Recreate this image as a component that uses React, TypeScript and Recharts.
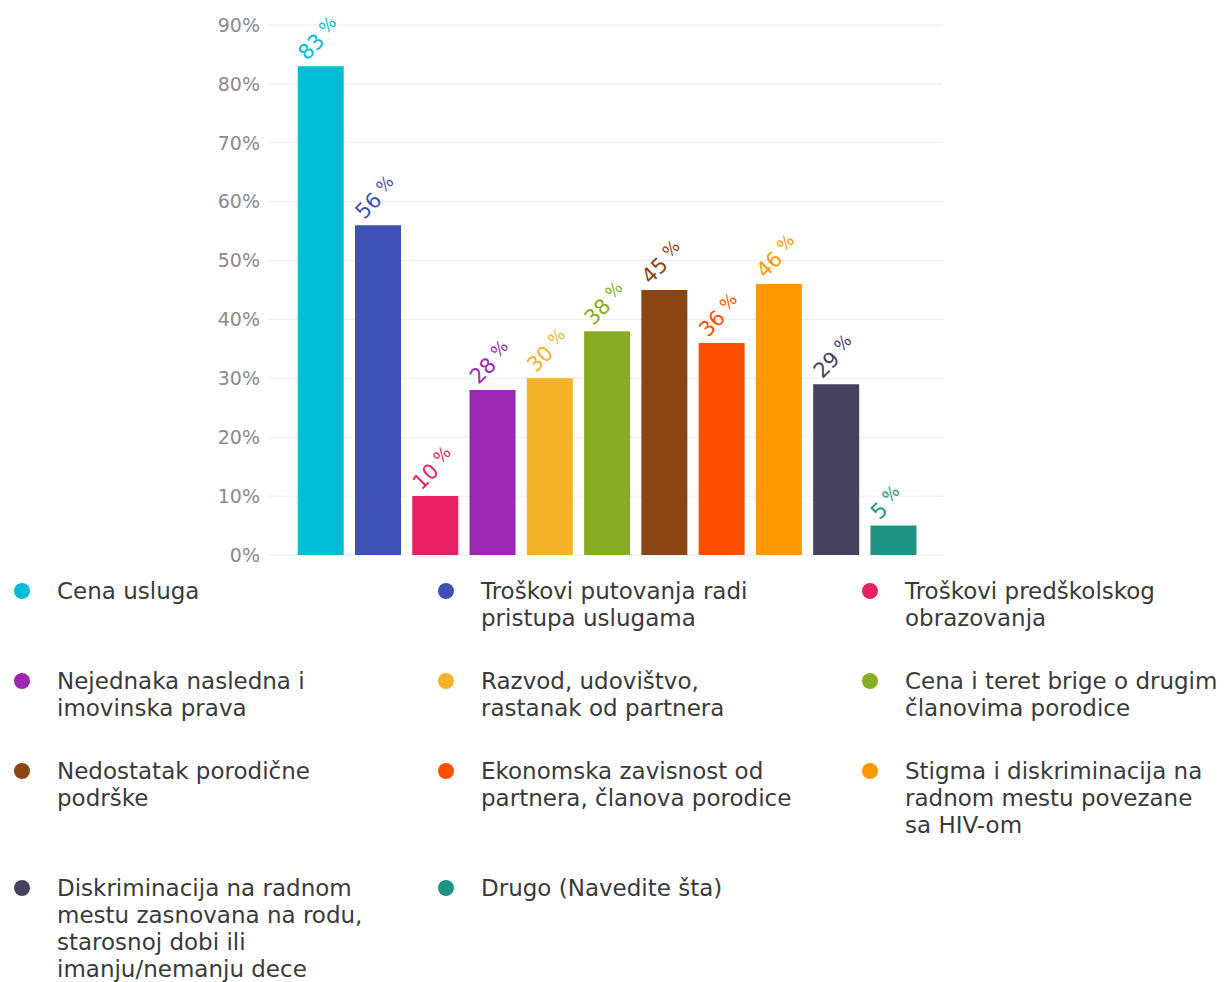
import React from 'react';
import { BarChart, Bar, XAxis, YAxis, CartesianGrid, Cell, LabelList } from 'recharts';

const categories = [
  'Cena usluga',
  'Troškovi putovanja radi\npristupa uslugama',
  'Troškovi predškolskog\nobrazovanja',
  'Nejednaka nasledna i\nimovinska prava',
  'Razvod, udovištvo,\nrastanak od partnera',
  'Cena i teret brige o drugim\nčlanovima porodice',
  'Nedostatak porodične\npodrške',
  'Ekonomska zavisnost od\npartnera, članova porodice',
  'Stigma i diskriminacija na\nradnom mestu povezane\nsa HIV-om',
  'Diskriminacija na radnom\nmestu zasnovana na rodu,\nstarosnoj dobi ili\nimanju/nemanju dece',
  'Drugo (Navedite šta)',
];

const values = [83, 56, 10, 28, 30, 38, 45, 36, 46, 29, 5];

const colors = [
  '#00bcd4', '#3f51b5', '#e91e63', '#9c27b0', '#f3b229', '#87ad26',
  '#8b4513', '#ff5100', '#ff9800', '#45415f', '#1f9384',
];

const yTicks = [0, 10, 20, 30, 40, 50, 60, 70, 80, 90];

const data = categories.map((name, i) => ({ name, value: values[i] }));

const FONT = '"DejaVu Sans", Verdana, sans-serif';

const renderLabel = (props: any) => {
  const { x, y, value, index } = props;
  const i = typeof index === 'number' ? index : values.indexOf(value);
  const ax = Number(x) + 9;
  const ay = Number(y) - 5;
  return (
    <text
      x={ax}
      y={ay}
      fill={colors[i]}
      fontSize={21}
      fontFamily={FONT}
      transform={`rotate(-45, ${ax}, ${ay})`}
    >
      {value}
      <tspan fontSize={17} dy={-5}> %</tspan>
    </text>
  );
};

const App: React.FC = () => {
  return (
    <div style={{ position: 'absolute', left: 0, top: 0, width: 1228, height: 982, background: '#fff', fontFamily: FONT }}>
      <BarChart
        width={1228}
        height={570}
        data={data}
        margin={{ top: 25, right: 285, left: 0, bottom: 15 }}
        barCategoryGap="10%"
      >
        <CartesianGrid vertical={false} stroke="#ececec" />
        <XAxis dataKey="name" hide padding={{ left: 24, right: 21 }} />
        <YAxis
          width={268}
          domain={[0, 90]}
          ticks={yTicks}
          tickFormatter={(v) => `${v}%`}
          axisLine={false}
          tickLine={false}
          tick={{ fill: '#8a8a8a', fontSize: 19, fontFamily: FONT }}
        />
        <Bar dataKey="value" isAnimationActive={false}>
          {data.map((d, i) => (
            <Cell key={d.name} fill={colors[i]} />
          ))}
          <LabelList dataKey="value" content={renderLabel} />
        </Bar>
      </BarChart>
      <div
        style={{
          position: 'absolute',
          left: 14,
          top: 578,
          display: 'grid',
          gridTemplateColumns: '424px 424px 380px',
          rowGap: 36,
        }}
      >
        {categories.map((name, i) => (
          <div key={name} style={{ display: 'flex', alignItems: 'flex-start' }}>
            <span
              style={{
                width: 16,
                height: 16,
                borderRadius: 8,
                background: colors[i],
                marginTop: 5,
                flex: 'none',
              }}
            />
            <span
              style={{
                marginLeft: 27,
                fontSize: 23,
                lineHeight: '27px',
                color: '#3a3a3a',
                whiteSpace: 'pre',
              }}
            >
              {name}
            </span>
          </div>
        ))}
      </div>
    </div>
  );
};

export default App;
